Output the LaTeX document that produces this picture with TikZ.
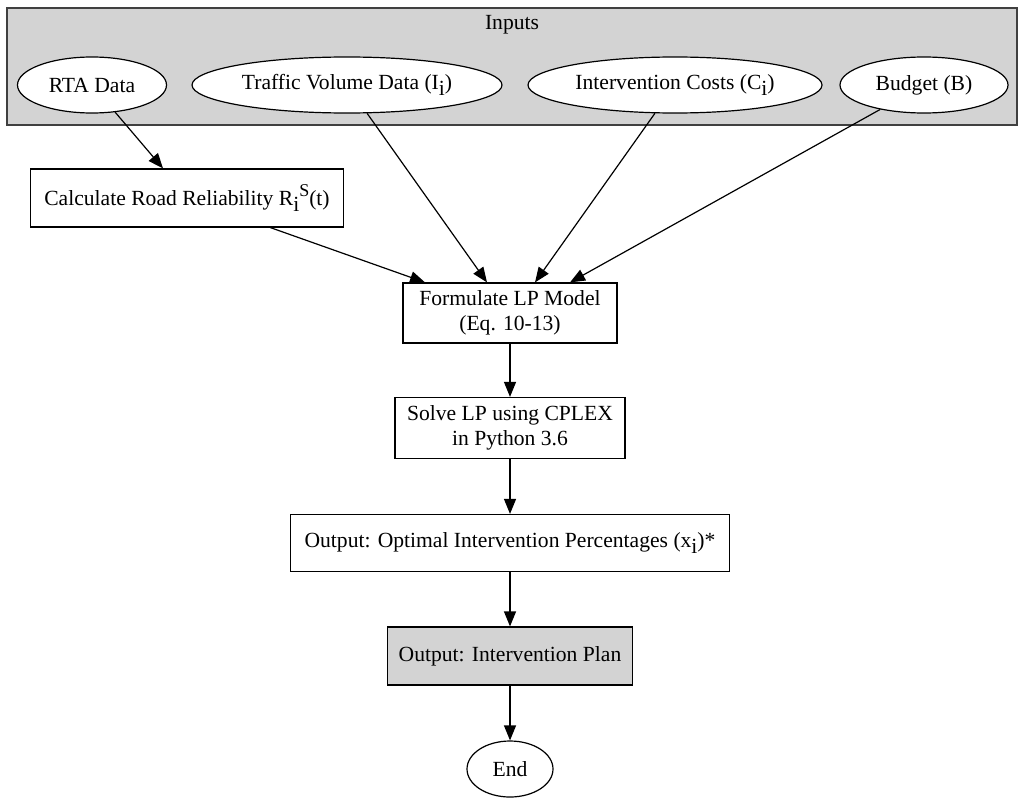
\documentclass[tikz,border=0pt]{standalone}
\usepackage{fontspec}
\setmainfont{Liberation Serif}
\usetikzlibrary{arrows.meta}
\usetikzlibrary{shapes.geometric}
\definecolor{clustergray}{HTML}{D3D3D3}
\newcommand{\SubText}[1]{\raisebox{-0.55ex}{#1}}
\newcommand{\SupText}[1]{\raisebox{0.9ex}{\small #1}}

\begin{document}
\begin{tikzpicture}[
    x=0.5pt, y=-0.5pt,
    >={Triangle[length=7.5pt,width=6pt]},
    font=\fontsize{10.8}{12.5}\selectfont,
    inputnode/.style={draw, ellipse, fill=white, line width=0.6pt,
      inner sep=0pt, minimum height=28pt},
    stepbox/.style={draw, rectangle, fill=white, line width=0.6pt,
      inner sep=0pt, align=center},
    ]

    \useasboundingbox (0,0) rectangle (1020,797);

    % inputs cluster
    \draw[fill=clustergray, draw=black!75, line width=0.8pt]
      (7,8) rectangle (1017,125);
    \node (inputs) at (512,25) {Inputs};

    \node[inputnode, minimum width=74.5pt] (rta)     at (92,85)  {RTA Data};
    \node[inputnode, minimum width=155pt]  (traffic) at (347,85) {Traffic Volume Data (I\SubText{i})};
    \node[inputnode, minimum width=147pt]  (costs)   at (675,85) {Intervention Costs (C\SubText{i})};
    \node[inputnode, minimum width=84pt]   (budget)  at (924,85) {Budget (B)};

    % processing chain
    \node[stepbox, minimum width=156.5pt, minimum height=29pt] (reliab) at (187,198)
      {Calculate Road Reliability R\SubText{i}\SupText{S}(t)};
    \node[stepbox, minimum width=107pt, minimum height=30pt] (lpmodel) at (510,313)
      {Formulate LP Model\\(Eq. 10-13)};
    \node[stepbox, minimum width=115pt, minimum height=30.5pt] (solve) at (510,428)
      {Solve LP using CPLEX\\in Python 3.6};
    \node[stepbox, minimum width=219.5pt, minimum height=28.5pt] (optimal) at (510,543)
      {Output: Optimal Intervention Percentages (x\SubText{i})*};
    \node[stepbox, fill=clustergray, minimum width=122.5pt, minimum height=29pt] (plan) at (510,656)
      {Output: Intervention Plan};
    \node[inputnode, minimum width=43pt] (end) at (510,769) {End};

    \path[
    ->,
    line width=0.6pt,
    ]
    (rta)     edge ([xshift=-12pt]reliab.north)
    (reliab)  edge ([xshift=-42.5pt]lpmodel.north)
    (traffic) edge ([xshift=-11.5pt]lpmodel.north)
    (costs)   edge ([xshift=12.5pt]lpmodel.north)
    (budget)  edge ([xshift=30pt]lpmodel.north)
    (lpmodel) edge (solve)
    (solve)   edge (optimal)
    (optimal) edge (plan)
    (plan)    edge (end);

\end{tikzpicture}
\end{document}
